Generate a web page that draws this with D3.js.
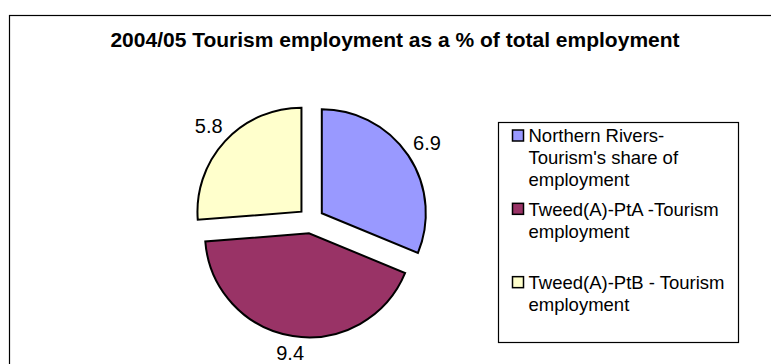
<!DOCTYPE html>
<html>
<head>
<meta charset="utf-8">
<script src="https://cdn.jsdelivr.net/npm/d3@7"></script>
<style>
  body { margin: 0; background: #fff; }
  svg text { font-family: Arial, "Liberation Sans", sans-serif; }
</style>
</head>
<body>
<div id="chart"></div>
<script>
// chart data
var title = "2004/05 Tourism employment as a % of total employment";
var categories = [
    "Northern Rivers-\nTourism's share of\nemployment",
    "Tweed(A)-PtA -Tourism\nemployment",
    "Tweed(A)-PtB - Tourism\nemployment"
];
var values = [6.9, 9.4, 5.8];
var valueLabels = ["6.9", "9.4", "5.8"];
var colors = ["#9999FF", "#993366", "#FFFFCC"];

var width = 771, height = 364;
var cx = 311, cy = 220.5, radius = 104, explode = 13, labelGap = 6;

var svg = d3.select("#chart").append("svg")
    .attr("width", width)
    .attr("height", height);

// chart area border (runs off the right and bottom edges)
svg.append("rect")
    .attr("x", 9.5).attr("y", 15.5)
    .attr("width", 800).attr("height", 400)
    .attr("fill", "#fff")
    .attr("stroke", "#000")
    .attr("stroke-width", 1.2);

svg.append("text")
    .attr("x", 395)
    .attr("y", 47)
    .attr("text-anchor", "middle")
    .style("font-size", "21px")
    .style("font-weight", "bold")
    .text(title);

// pie, clockwise from 12 o'clock, exploded slices
var pie = d3.pie().sort(null).value(function(d) { return d; });
var arcs = pie(values);
var arc = d3.arc().innerRadius(0).outerRadius(radius);

function midAngle(d) { return (d.startAngle + d.endAngle) / 2; }

var slices = svg.append("g")
    .attr("transform", "translate(" + cx + "," + cy + ")")
    .selectAll("g")
    .data(arcs)
    .enter().append("g")
    .attr("transform", function(d) {
        var a = midAngle(d);
        return "translate(" + (Math.sin(a) * explode) + "," + (-Math.cos(a) * explode) + ")";
    });

slices.append("path")
    .attr("d", arc)
    .attr("fill", function(d, i) { return colors[i]; })
    .attr("stroke", "#000")
    .attr("stroke-width", 2)
    .attr("stroke-linejoin", "miter");

// value labels outside each slice; keep the label box a fixed gap off the rim
var labels = svg.append("g")
    .attr("transform", "translate(" + cx + "," + cy + ")")
    .selectAll("text")
    .data(arcs)
    .enter().append("text")
    .attr("dy", "0.35em")
    .attr("text-anchor", "middle")
    .style("font-size", "20px")
    .text(function(d, i) { return valueLabels[i]; });

labels.each(function(d) {
    var bb = this.getBBox();
    var a = midAngle(d);
    var s = Math.sin(a), c = -Math.cos(a);
    var dist = radius + explode + labelGap + (bb.width / 2) * Math.abs(s) + (bb.height / 2 - 2) * Math.abs(c);
    d3.select(this).attr("x", s * dist).attr("y", c * dist);
});

// legend
var lg = { x: 498.5, y: 122.5, w: 240, h: 220, line: 22 };
var legend = svg.append("g");
legend.append("rect")
    .attr("x", lg.x).attr("y", lg.y)
    .attr("width", lg.w).attr("height", lg.h)
    .attr("fill", "#fff")
    .attr("stroke", "#000")
    .attr("stroke-width", 1.2);

var slot = d3.scaleBand()
    .domain(d3.range(categories.length))
    .range([lg.y, lg.y + lg.h]);

var items = legend.selectAll("g.item")
    .data(categories)
    .enter().append("g")
    .attr("class", "item")
    .attr("transform", function(d, i) { return "translate(" + lg.x + "," + (slot(i) + 13.5) + ")"; });

items.append("rect")
    .attr("x", 14).attr("y", -6)
    .attr("width", 11).attr("height", 11)
    .attr("fill", function(d, i) { return colors[i]; })
    .attr("stroke", "#000")
    .attr("stroke-width", 1.5);

items.append("text")
    .style("font-size", "18.5px")
    .selectAll("tspan")
    .data(function(d) { return d.split("\n"); })
    .enter().append("tspan")
    .attr("x", 30)
    .attr("y", function(d, j) { return j * lg.line; })
    .attr("dy", "0.35em")
    .text(function(d) { return d; });
</script>
</body>
</html>
